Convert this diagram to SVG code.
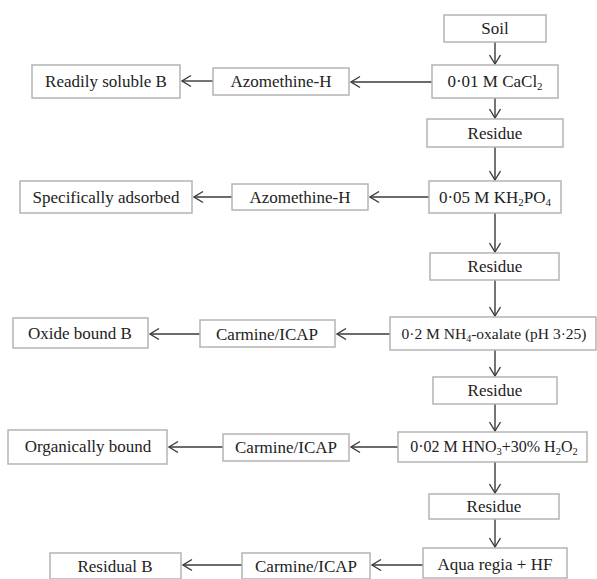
<svg xmlns="http://www.w3.org/2000/svg" width="597" height="579" viewBox="0 0 597 579">
<defs>
<style>
.box{fill:#fff;stroke:#b4b4b4;stroke-width:1.5}
.t{font-family:"Liberation Serif","Times New Roman",serif;font-size:17px;fill:#222;text-anchor:middle}
.s{font-size:11px}
.c{stroke:#3a3a3a;stroke-width:1.4;fill:none}
</style>
<marker id="ah" markerUnits="userSpaceOnUse" markerWidth="14" markerHeight="14" viewBox="-10 -7 14 14" refX="0" refY="0" orient="auto">
<path d="M-9,-5.5 L0,0 L-9,5.5" fill="none" stroke="#3a3a3a" stroke-width="1.4"/>
</marker>
</defs>
<rect width="597" height="579" fill="#fff"/>
<g id="connectors">
<line class="c" x1="495" y1="42" x2="495" y2="64" marker-end="url(#ah)"/>
<line class="c" x1="495" y1="98" x2="495" y2="118" marker-end="url(#ah)"/>
<line class="c" x1="495" y1="147" x2="495" y2="180" marker-end="url(#ah)"/>
<line class="c" x1="495" y1="213" x2="495" y2="252" marker-end="url(#ah)"/>
<line class="c" x1="495" y1="280" x2="495" y2="316" marker-end="url(#ah)"/>
<line class="c" x1="495" y1="350" x2="495" y2="376" marker-end="url(#ah)"/>
<line class="c" x1="495" y1="404" x2="495" y2="431" marker-end="url(#ah)"/>
<line class="c" x1="495" y1="462" x2="495" y2="493" marker-end="url(#ah)"/>
<line class="c" x1="495" y1="519" x2="495" y2="547" marker-end="url(#ah)"/>
<line class="c" x1="432" y1="82" x2="351" y2="82" marker-end="url(#ah)"/>
<line class="c" x1="213" y1="81" x2="182" y2="81" marker-end="url(#ah)"/>
<line class="c" x1="429" y1="197" x2="370" y2="197" marker-end="url(#ah)"/>
<line class="c" x1="232" y1="197" x2="194" y2="197" marker-end="url(#ah)"/>
<line class="c" x1="390" y1="334" x2="337" y2="334" marker-end="url(#ah)"/>
<line class="c" x1="200" y1="334" x2="150" y2="334" marker-end="url(#ah)"/>
<line class="c" x1="398" y1="447" x2="351" y2="447" marker-end="url(#ah)"/>
<line class="c" x1="223" y1="447" x2="169" y2="447" marker-end="url(#ah)"/>
<line class="c" x1="423" y1="565" x2="372" y2="565" marker-end="url(#ah)"/>
<line class="c" x1="242" y1="565" x2="183" y2="565" marker-end="url(#ah)"/>
</g>
<g id="soil"><rect class="box" x="444" y="15" width="102" height="27"/><text class="t" x="495" y="34">Soil</text></g>
<g id="cacl2"><rect class="box" x="432" y="65" width="126" height="33"/><text class="t" x="495" y="87">0·01 M CaCl<tspan class="s" dy="3">2</tspan></text></g>
<g id="residue1"><rect class="box" x="427" y="119" width="136" height="28"/><text class="t" x="495" y="139">Residue</text></g>
<g id="kh2po4"><rect class="box" x="429" y="181" width="132" height="32"/><text class="t" x="495" y="203">0·05 M KH<tspan class="s" dy="3">2</tspan><tspan dy="-3">PO</tspan><tspan class="s" dy="3">4</tspan></text></g>
<g id="residue2"><rect class="box" x="430" y="253" width="129" height="27"/><text class="t" x="495" y="272">Residue</text></g>
<g id="oxalate"><rect class="box" x="390" y="317" width="206" height="33"/><text class="t" x="494" y="339" style="font-size:15.5px">0·2 M NH<tspan class="s" dy="3" style="font-size:10px">4</tspan><tspan dy="-3">-oxalate (pH 3·25)</tspan></text></g>
<g id="residue3"><rect class="box" x="433" y="377" width="124" height="27"/><text class="t" x="495" y="396">Residue</text></g>
<g id="hno3"><rect class="box" x="398" y="432" width="189" height="30"/><text class="t" x="494" y="452" style="font-size:16px">0·02 M HNO<tspan class="s" dy="3" style="font-size:10.5px">3</tspan><tspan dy="-3">+30% H</tspan><tspan class="s" dy="3" style="font-size:10.5px">2</tspan><tspan dy="-3">O</tspan><tspan class="s" dy="3" style="font-size:10.5px">2</tspan></text></g>
<g id="residue4"><rect class="box" x="429" y="494" width="130" height="25"/><text class="t" x="494" y="512">Residue</text></g>
<g id="aqua"><rect class="box" x="423" y="548" width="144" height="30"/><text class="t" x="495" y="570">Aqua regia + HF</text></g>
<g id="readily"><rect class="box" x="32" y="65" width="148" height="33"/><text class="t" x="106" y="87">Readily soluble B</text></g>
<g id="azo1"><rect class="box" x="213" y="68" width="136" height="27"/><text class="t" x="281" y="87">Azomethine-H</text></g>
<g id="specific"><rect class="box" x="20" y="181" width="172" height="32"/><text class="t" x="106" y="203">Specifically adsorbed</text></g>
<g id="azo2"><rect class="box" x="232" y="184" width="136" height="26"/><text class="t" x="300" y="203">Azomethine-H</text></g>
<g id="oxide"><rect class="box" x="13" y="318" width="135" height="30"/><text class="t" x="80" y="339">Oxide bound B</text></g>
<g id="carm1"><rect class="box" x="200" y="320" width="135" height="27"/><text class="t" x="267" y="340">Carmine/ICAP</text></g>
<g id="organic"><rect class="box" x="8" y="430" width="159" height="34"/><text class="t" x="88" y="452">Organically bound</text></g>
<g id="carm2"><rect class="box" x="223" y="434" width="126" height="27"/><text class="t" x="286" y="453">Carmine/ICAP</text></g>
<g id="residual"><rect class="box" x="50" y="553" width="131" height="26"/><text class="t" x="115" y="572">Residual B</text></g>
<g id="carm3"><rect class="box" x="242" y="553" width="128" height="26"/><text class="t" x="306" y="572">Carmine/ICAP</text></g>
</svg>
